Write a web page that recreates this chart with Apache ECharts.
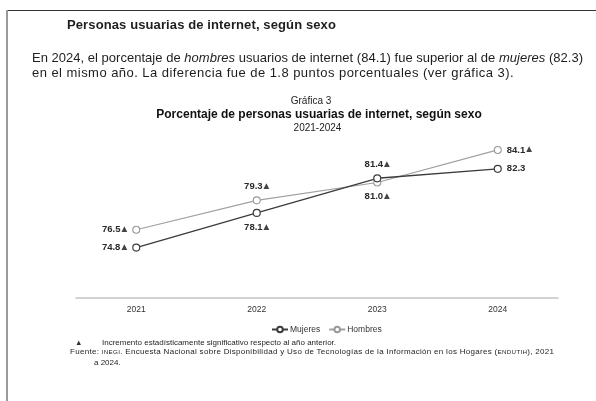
<!DOCTYPE html>
<html><head><meta charset="utf-8">
<script src="https://cdn.jsdelivr.net/npm/echarts@6/dist/echarts.min.js"></script>
<style>
html,body{margin:0;padding:0;background:#fff;}
#wrap{position:relative;width:596px;height:401px;overflow:hidden;font-family:'Liberation Sans',Arial,sans-serif;color:#1e1e1e;background:#fff;}
#chart{position:absolute;left:0;top:0;width:596px;height:401px;}
.t{position:absolute;white-space:nowrap;line-height:1;}
.sc{font-size:0.78em;letter-spacing:0.3px;}
</style></head><body>
<div id="wrap">
<div id="chart"></div>
<div style="position:absolute;left:6px;top:10px;width:590px;height:1px;background:#333;"></div>
<div style="position:absolute;left:6px;top:10px;width:2px;height:391px;background:#9a9a9a;"></div>
<div class="t fit" data-w="269" style="left:67px;top:18px;font-size:13px;font-weight:bold;">Personas usuarias de internet, según sexo</div>
<div class="t fit" data-w="551" style="left:32px;top:51px;font-size:13px;">En 2024, el porcentaje de <i>hombres</i> usuarios de internet (84.1) fue superior al de <i>mujeres</i> (82.3)</div>
<div class="t fit" data-w="482" style="left:32px;top:66px;font-size:13px;">en el mismo año. La diferencia fue de 1.8 puntos porcentuales (ver gráfica 3).</div>
<div class="t" style="left:75px;top:339px;font-size:7.5px;color:#333;">▲</div>
<div class="t fit" data-w="234" style="left:102px;top:339px;font-size:8px;">Incremento estadísticamente significativo respecto al año anterior.</div>
<div class="t fit" data-w="488" style="left:70px;top:348px;font-size:8px;">Fuente: <span class="sc">INEGI</span>. Encuesta Nacional sobre Disponibilidad y Uso de Tecnologías de la Información en los Hogares (<span class="sc">ENDUTIH</span>), 2021</div>
<div class="t" style="left:94px;top:359px;font-size:8px;">a 2024.</div>
</div>
<script>
const years = ['2021', '2022', '2023', '2024'];
const mujeres = [74.8, 78.1, 81.4, 82.3];
const hombres = [76.5, 79.3, 81.0, 84.1];
const sigMujeres = [true, true, true, false];
const sigHombres = [true, true, true, true];
const labelPosMujeres = ['left', 'bottom', 'top', 'right'];
const labelPosHombres = ['left', 'top', 'bottom', 'right'];

document.querySelectorAll('.fit').forEach(function (el) {
  const target = parseFloat(el.dataset.w);
  const w = el.getBoundingClientRect().width;
  const n = el.textContent.length;
  el.style.letterSpacing = ((target - w) / n).toFixed(3) + 'px';
});

function buildData(vals, sig, pos) {
  return vals.map(function (v, i) {
    return {
      value: v,
      label: {
        position: pos[i],
        formatter: '{v|' + v.toFixed(1) + '}' + (sig[i] ? '{t|▲}' : '')
      }
    };
  });
}

const labelRich = {
  v: { fontFamily: 'Liberation Sans', fontSize: 9.5, fontWeight: 'bold', color: '#2a2a2a' },
  t: { fontFamily: 'DejaVu Sans', fontSize: 7.5, color: '#444', padding: [0, 0, 1, 1] }
};

const chart = echarts.init(document.getElementById('chart'), null, { renderer: 'canvas' });
chart.setOption({
  animation: false,
  backgroundColor: 'transparent',
  textStyle: { fontFamily: 'Liberation Sans' },
  graphic: [
    { type: 'text', x: 311, y: 101, style: { text: 'Gráfica 3', align: 'center', verticalAlign: 'middle', font: '10px "Liberation Sans"', fill: '#222' } },
    { type: 'text', x: 319, y: 114.5, style: { text: 'Porcentaje de personas usuarias de internet, según sexo', align: 'center', verticalAlign: 'middle', font: 'bold 12px "Liberation Sans"', fill: '#111' } },
    { type: 'text', x: 317.5, y: 128, style: { text: '2021-2024', align: 'center', verticalAlign: 'middle', font: '10px "Liberation Sans"', fill: '#222' } }
  ],
  legend: {
    left: 266, top: 320,
    itemWidth: 16, itemHeight: 7, itemGap: 8,
    textStyle: { fontSize: 8.5, color: '#333', padding: [0, 0, 0, -3] },
    data: ['Mujeres', 'Hombres']
  },
  grid: { left: 76, right: 38, top: 130, bottom: 103 },
  xAxis: {
    type: 'category',
    data: years,
    boundaryGap: true,
    axisLine: { lineStyle: { color: '#c4c4c4', width: 1.5 } },
    axisTick: { show: false },
    axisLabel: { fontSize: 8.5, color: '#333', margin: 7 }
  },
  yAxis: {
    type: 'value', min: 70, max: 86,
    show: false,
    splitLine: { show: false }
  },
  series: [
    {
      name: 'Mujeres', type: 'line',
      data: buildData(mujeres, sigMujeres, labelPosMujeres),
      color: '#3c3c3c',
      lineStyle: { color: '#3c3c3c', width: 1.4 },
      symbol: 'circle', symbolSize: 7,
      itemStyle: { color: '#ffffff', borderColor: '#3c3c3c', borderWidth: 1.2 },
      label: { show: true, distance: 5, rich: labelRich },
      z: 3
    },
    {
      name: 'Hombres', type: 'line',
      data: buildData(hombres, sigHombres, labelPosHombres),
      color: '#a0a0a0',
      lineStyle: { color: '#a0a0a0', width: 1.2 },
      symbol: 'circle', symbolSize: 7,
      itemStyle: { color: '#ffffff', borderColor: '#9a9a9a', borderWidth: 1.1 },
      label: { show: true, distance: 5, rich: labelRich },
      z: 2
    }
  ]
});
</script>
</body></html>
